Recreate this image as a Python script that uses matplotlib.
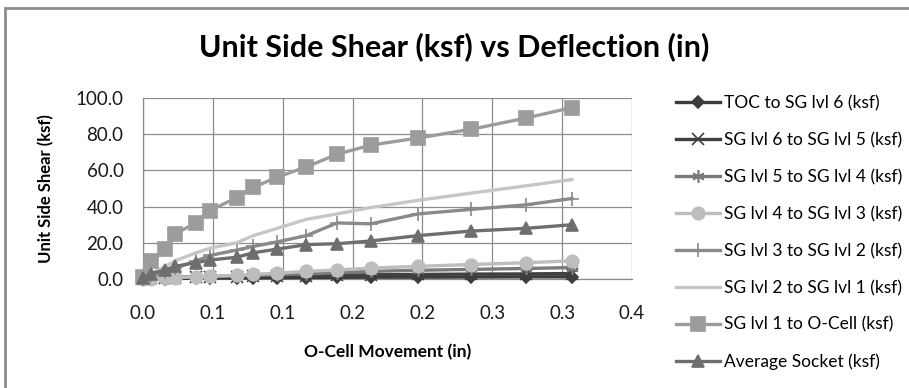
import matplotlib
matplotlib.use("Agg")
import matplotlib.pyplot as plt
from matplotlib.patches import Rectangle

plt.rcParams['font.family'] = ['Lato', 'DejaVu Sans']

# O-Cell movement (in), shared by all series
movement = [0, 0.006, 0.016, 0.023, 0.038, 0.048, 0.067, 0.079, 0.096,
            0.117, 0.139, 0.163, 0.197, 0.235, 0.274, 0.307]

toc_to_sg6 = [0, 0, 0.2, 0.3, 0.4, 0.5, 0.5, 0.6, 0.7, 0.8, 0.9, 1.0, 1.0, 1.1, 1.2, 1.2]
sg6_to_sg5 = [0, 0.3, 0.6, 0.8, 1.0, 1.2, 1.3, 1.5, 1.7, 1.9, 2.1, 2.3, 2.5, 2.7, 2.8, 3.0]
sg5_to_sg4 = [0, 0.3, 0.6, 0.9, 1.2, 1.4, 1.7, 2.0, 2.4, 2.8, 3.4, 4.2, 4.8, 5.3, 5.8, 6.3]
sg4_to_sg3 = [0, 0.2, 0.5, 0.8, 1.2, 1.5, 2.0, 2.5, 3.2, 4.2, 5.0, 6.0, 7.0, 8.0, 9.0, 10.0]
sg3_to_sg2 = [0, 2, 4, 6, 10, 13, 16, 18, 20.5, 24, 31, 30.5, 36, 38.5, 41, 44.5]
sg2_to_sg1 = [0, 3, 7, 10, 14.5, 17, 20, 24, 28, 33, 36, 39.5, 43.5, 47.5, 51.5, 55]
sg1_to_ocell = [1, 10, 16.5, 25, 31, 37.8, 45, 50.7, 56.3, 62, 69, 74, 78, 82.8, 89, 94.8]
avg_socket = [0.5, 3, 5, 7, 9, 10.5, 12, 14.5, 16.5, 19, 19.5, 21, 24, 26.5, 28, 30]

x_ticks = [0, 0.05, 0.1, 0.15, 0.2, 0.25, 0.3, 0.35]
x_tick_labels = ['0.0', '0.1', '0.1', '0.2', '0.2', '0.3', '0.3', '0.4']
y_ticks = [0, 20, 40, 60, 80, 100]

series = [
    ("TOC to SG lvl 6 (ksf)", toc_to_sg6, '#3c3c3c', 'D', 6, 2.4),
    ("SG lvl 6 to SG lvl 5 (ksf)", sg6_to_sg5, '#404040', 'x', 8, 2.4),
    ("SG lvl 5 to SG lvl 4 (ksf)", sg5_to_sg4, '#7a7a7a', (6, 2, 0), 9, 2.4),
    ("SG lvl 4 to SG lvl 3 (ksf)", sg4_to_sg3, '#bdbdbd', 'o', 9, 2.4),
    ("SG lvl 3 to SG lvl 2 (ksf)", sg3_to_sg2, '#8a8a8a', '+', 10, 2.4),
    ("SG lvl 2 to SG lvl 1 (ksf)", sg2_to_sg1, '#c6c6c6', None, 0, 2.4),
    ("SG lvl 1 to O-Cell (ksf)", sg1_to_ocell, '#9c9c9c', 's', 10, 2.4),
    ("Average Socket (ksf)", avg_socket, '#6e6e6e', '^', 9, 2.4),
]

fig = plt.figure(figsize=(9.09, 3.88), dpi=100)
ax = fig.add_axes([0.1573, 0.281, 0.538, 0.466])

for label, vals, color, marker, ms, lw in series:
    ax.plot(movement, vals, color=color, lw=lw, marker=marker, markersize=ms,
            markeredgecolor=color, markerfacecolor=color, markeredgewidth=1.2,
            label=label, clip_on=False, zorder=3)

ax.set_xlim(0, 0.35)
ax.set_ylim(0, 100)
ax.set_xticks(x_ticks)
ax.set_xticklabels(x_tick_labels)
ax.set_yticks(y_ticks)
ax.set_yticklabels(['%.1f' % v for v in y_ticks])
ax.grid(True, color='#8c8c8c', lw=0.9)
ax.set_axisbelow(True)
for s in ['top', 'right']:
    ax.spines[s].set_visible(False)
for s in ['left', 'bottom']:
    ax.spines[s].set_color('#8c8c8c')
    ax.spines[s].set_linewidth(0.9)
ax.tick_params(length=0, labelsize=13.5, colors='#1a1a1a')
ax.tick_params(axis='x', pad=19)
ax.tick_params(axis='y', pad=14)

ax.set_ylabel("Unit Side Shear (ksf)", fontsize=12, fontweight='bold', labelpad=15)
fig.text(0.426, 0.093, "O-Cell Movement (in)", fontsize=12.5, fontweight='bold',
         ha='center', va='center')
fig.text(0.50, 0.88, "Unit Side Shear (ksf) vs Deflection (in)", fontsize=22,
         fontweight='bold', ha='center', va='center')

fig.legend(loc='upper left', bbox_to_anchor=(0.744, 0.755), frameon=False,
           fontsize=12.5, handlelength=2.5, handletextpad=0.25, labelspacing=1.2,
           borderaxespad=0, borderpad=0)

fig.patches.append(Rectangle((0.006, -0.01), 1.0, 0.99, transform=fig.transFigure,
                             fill=False, edgecolor='#8c8c8c', lw=2))

fig.savefig("out.png", dpi=100)
